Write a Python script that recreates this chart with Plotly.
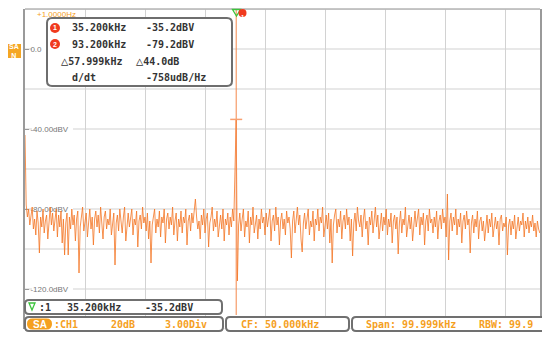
import plotly.graph_objects as go

# ---------------- data ----------------
bin_step_khz = 0.2
spectrum_dbv = [
    -43, -78, -84, -80, -88, -82, -79, -90, -85, -93, -81, -87, -102, -84, -89, -80, -92, -86, -83, -95,
    -84, -79, -88, -82, -91, -86, -80, -94, -83, -89, -81, -97, -85, -103, -87, -82, -103, -84, -90, -80,
    -88, -83, -96, -85, -81, -112, -89, -84, -79, -91, -86, -82, -94, -87, -80, -90, -84, -98, -85, -81,
    -89, -83, -92, -79, -86, -95, -84, -81, -90, -85, -88, -80, -93, -86, -82, -108, -87, -83, -91, -80,
    -85, -92, -84, -79, -96, -86, -82, -89, -84, -80, -93, -85, -88, -81, -99, -86, -83, -90, -79, -87,
    -84, -91, -82, -95, -86, -107, -88, -83, -80, -92, -85, -89, -81, -94, -84, -87, -80, -97, -85, -82,
    -90, -84, -88, -79, -93, -86, -82, -96, -85, -89, -81, -92, -84, -87, -80, -98, -86, -83, -91, -82,
    -87, -81, -75, -84, -90, -86, -95, -83, -88, -80, -92, -85, -82, -99, -87, -84, -79, -91, -85, -89,
    -81, -94, -86, -83, -90, -80, -96, -85, -88, -82, -93, -84, -89, -80, -86, -64.5, -35.2, -116, -88, -82,
    -91, -85, -80, -94, -86, -89, -81, -97, -84, -88, -79, -92, -86, -83, -95, -85, -90, -80, -87, -84,
    -93, -82, -89, -85, -80, -96, -86, -83, -91, -79, -88, -84, -98, -86, -82, -90, -85, -93, -81, -87,
    -84, -90, -104.5, -86, -81, -92, -85, -79, -88, -83, -95, -101.5, -87, -82, -90, -84, -80, -93, -86, -89,
    -81, -96, -85, -88, -80, -91, -84, -87, -79, -94, -86, -83, -90, -82, -97, -85, -107, -88, -83, -80,
    -92, -85, -89, -81, -95, -86, -83, -90, -80, -88, -84, -96, -85, -103.5, -87, -82, -91, -79, -86, -89,
    -83, -94, -85, -80, -90, -86, -98, -84, -88, -81, -92, -85, -79, -89, -83, -95, -86, -82, -91, -84,
    -88, -80, -93, -85, -89, -82, -97, -86, -83, -90, -84, -102.5, -87, -81, -92, -85, -88, -79, -94, -86,
    -83, -90, -84, -96, -86, -81, -89, -85, -80, -93, -84, -88, -82, -98, -86, -83, -91, -80, -87, -85,
    -92, -84, -89, -81, -95, -86, -83, -90, -80, -87, -84, -94, -72.5, -105.5, -86, -82, -91, -84, -88, -80,
    -93, -85, -89, -82, -97, -86, -83, -90, -81, -88, -85, -102, -87, -83, -92, -85, -89, -81, -95, -86,
    -84, -91, -86, -96, -88, -83, -92, -85, -89, -82, -94, -87, -84, -90, -86, -98, -85, -83, -91, -87,
    -89, -84, -103, -88, -85, -93, -86, -90, -83, -95, -87, -84, -91, -86, -88, -82, -94, -86, -90, -84,
    -92, -86, -89, -83, -91, -87, -94, -86, -90, -92,
]
freq_khz = [i * bin_step_khz for i in range(len(spectrum_dbv))]

marker1_khz, marker1_dbv = 35.2, -35.2
marker2_khz, marker2_dbv = 93.2, -79.2
delta_khz, delta_db = 57.999, 44.0
slope_text = "-758udB/Hz"

y_tick_vals = [0, -40, -80, -120]
y_tick_text = ["0.0", "-40.00dBV", "-80.00dBV", "-120.0dBV"]

center_freq_text = "50.000kHz"
span_text = "99.999kHz"
rbw_text = "99.9"
channel_text = "CH1"
scale_text = "20dB"
div_text = "3.00Div"
offset_text = "+1.0000Hz"

# ---------------- layout helpers (reference pixel -> paper) ----------------
OFF = 8                      # page body margin
W, H = 550 - OFF, 339 - OFF
PL, PR, PT, PB = 25, 540, 9, 329   # plot area in reference pixels


def px(x):
    return (x - PL) / (PR - PL)


def py(y):
    return (PB - y) / (PB - PT)


def rrect(x0, y0, x1, y1, r):
    pts = [
        ("M", (x0 + r, y0)), ("L", (x1 - r, y0)), ("Q", (x1, y0), (x1, y0 + r)),
        ("L", (x1, y1 - r)), ("Q", (x1, y1), (x1 - r, y1)),
        ("L", (x0 + r, y1)), ("Q", (x0, y1), (x0, y1 - r)),
        ("L", (x0, y0 + r)), ("Q", (x0, y0), (x0 + r, y0)),
    ]
    s = ""
    for p in pts:
        coords = " ".join(f"{px(a):.5f},{py(b):.5f}" for a, b in p[1:])
        s += f"{p[0]} {coords} "
    return s + "Z"


def poly(points):
    s = "M " + " L ".join(f"{px(a):.5f},{py(b):.5f}" for a, b in points)
    return s + " Z"


AMBER = "#F5A01E"
DARK = "#333333"
GREEN = "#3CC43C"
RED = "#F03A1E"
MONO = "DejaVu Sans Mono"

fig = go.Figure()
fig.add_trace(go.Scatter(
    x=freq_khz, y=spectrum_dbv, mode="lines",
    line=dict(color="rgba(244,118,36,0.8)", width=1),
    hoverinfo="skip", showlegend=False,
))

fig.update_layout(
    width=W, height=H,
    margin=dict(l=PL - OFF, r=(W + OFF) - PR, t=PT - OFF, b=(H + OFF) - PB, autoexpand=False),
    paper_bgcolor="white", plot_bgcolor="white",
    showlegend=False,
    xaxis=dict(range=[0, 100 * (PR - PL) / 600], dtick=10, tick0=0,
               showgrid=True, gridcolor="#D2D2D2", gridwidth=1.2,
               zeroline=False, showticklabels=False, showline=False, ticks=""),
    yaxis=dict(range=[-140, 20], showgrid=False,
               zeroline=False, showline=True, linecolor="#9A9A9A", linewidth=2,
               tickmode="array", tickvals=y_tick_vals, ticktext=y_tick_text,
               ticklabelposition="inside", ticks="inside", ticklen=4,
               tickcolor="#999999", layer="below traces",
               tickfont=dict(family="Arial", size=8, color="#777777")),
)
# gridlines every 20 dB (labels only every 40 dB)
for v in range(-140, 21, 20):
    fig.add_shape(type="line", xref="paper", yref="y", layer="below",
                  x0=0, x1=1, y0=v, y1=v, line=dict(color="#D2D2D2", width=1.2))

# white backgrounds for y tick labels (between grid and traces)
for v in y_tick_vals:
    fig.add_shape(type="rect", xref="paper", yref="y", layer="between",
                  x0=px(32), x1=px(73), y0=v - 2.2, y1=v + 2.2,
                  fillcolor="white", line=dict(width=0))

# marker vertical line and cross
fig.add_shape(type="line", xref="x", yref="paper", x0=marker1_khz, x1=marker1_khz,
              y0=py(315), y1=1, line=dict(color="#F4874A", width=1))
fig.add_shape(type="line", xref="x", yref="y", x0=marker1_khz - 1.0, x1=marker1_khz + 1.0,
              y0=marker1_dbv, y1=marker1_dbv, line=dict(color="#F8A070", width=1.5))

# top border
fig.add_shape(type="line", xref="paper", yref="paper", x0=0, x1=1, y0=1, y1=1,
              line=dict(color="#B5B5B5", width=1.5))
# right thick border
fig.add_shape(type="line", xref="paper", yref="paper", x0=px(541.5), x1=px(541.5),
              y0=py(9), y1=py(332), line=dict(color="#9A9A9A", width=3))

# offset label
fig.add_annotation(x=px(35), y=py(14), xref="paper", yref="paper", text=offset_text,
                   showarrow=False, xanchor="left", yanchor="middle",
                   font=dict(family="Arial", size=8, color=AMBER))

# top marker flag
fig.add_shape(type="path", xref="paper", yref="paper",
              path=poly([(232.5, 9.5), (240.5, 9.5), (236.5, 16)]),
              fillcolor="rgba(0,0,0,0)", line=dict(color=GREEN, width=1.3))
fig.add_shape(type="circle", xref="paper", yref="paper",
              x0=px(238.5), x1=px(246.5), y0=py(17), y1=py(9),
              fillcolor=RED, line=dict(width=0))
fig.add_annotation(x=px(242.5), y=py(13), xref="paper", yref="paper", text="<b>1</b>",
                   showarrow=False, borderpad=0, font=dict(family="Arial", size=6, color="white"))

# SA N badge
fig.add_shape(type="rect", xref="paper", yref="paper", x0=px(7), x1=px(21),
              y0=py(58), y1=py(44), fillcolor="#F5A623", line=dict(width=0))
fig.add_annotation(x=px(14), y=py(51), xref="paper", yref="paper", text="<b>SA<br>N</b>",
                   showarrow=False, borderpad=0, xanchor="center", yanchor="middle",
                   font=dict(family="Arial", size=7, color="white"))

# info box
fig.add_shape(type="path", xref="paper", yref="paper", path=rrect(47, 18, 232, 86, 5),
              fillcolor="white", line=dict(color="#6E6E6E", width=2))


def txt(x, y, s, color=DARK, size=10, anchor="left", family=MONO):
    fig.add_annotation(x=px(x), y=py(y), xref="paper", yref="paper", text=s,
                       showarrow=False, xanchor=anchor, yanchor="middle",
                       borderpad=0, font=dict(family=family, size=size, color=color))


def red_dot(x, y, label):
    fig.add_shape(type="circle", xref="paper", yref="paper",
                  x0=px(x - 5), x1=px(x + 5), y0=py(y + 5), y1=py(y - 5),
                  fillcolor=RED, line=dict(width=0))
    txt(x, y, f"<b>{label}</b>", color="white", size=7, anchor="center", family="Arial")


TRI = '<span style="font-size:12px">△</span>'
red_dot(55, 28, 1)
txt(71, 28, f"<b>{marker1_khz:.3f}kHz</b>")
txt(145, 28, f"<b>{marker1_dbv:.1f}dBV</b>")
red_dot(55, 44, 2)
txt(71, 44, f"<b>{marker2_khz:.3f}kHz</b>")
txt(145, 44, f"<b>{marker2_dbv:.1f}dBV</b>")
txt(60, 61, f"<b>{TRI}{delta_khz:.3f}kHz</b>")
txt(135, 61, f"<b>{TRI}{delta_db:.1f}dB</b>")
txt(71, 77, "<b>d/dt</b>")
txt(145, 77, f"<b>{slope_text}</b>")

# bottom boxes
fig.add_shape(type="path", xref="paper", yref="paper", path=rrect(25, 300, 222, 314, 4),
              fillcolor="white", line=dict(color="#707070", width=2))
fig.add_shape(type="path", xref="paper", yref="paper",
              path=poly([(29, 303), (35, 303), (32, 310)]),
              fillcolor="rgba(0,0,0,0)", line=dict(color=GREEN, width=1.3))
txt(38, 307, "<b>:1</b>")
txt(66, 307, f"<b>{marker1_khz:.3f}kHz</b>")
txt(144, 307, f"<b>{marker1_dbv:.1f}dBV</b>")

for (a, b) in [(25, 223), (226, 349), (352, 545)]:
    fig.add_shape(type="path", xref="paper", yref="paper", path=rrect(a, 317, b, 331, 4),
                  fillcolor="white", line=dict(color="#707070", width=2))

fig.add_shape(type="path", xref="paper", yref="paper", path=rrect(27, 318.5, 52, 329.5, 5.5),
              fillcolor=AMBER, line=dict(width=0))
txt(39.5, 324, "<b>SA</b>", color="white", size=10, anchor="center", family="Arial")
txt(53, 324, f"<b>:{channel_text}</b>", color=AMBER)
txt(110, 324, f"<b>{scale_text}</b>", color=AMBER)
txt(164, 324, f"<b>{div_text}</b>", color=AMBER)
txt(240, 324, f"<b>CF: {center_freq_text}</b>", color=AMBER)
txt(365, 324, f"<b>Span: {span_text}</b>", color=AMBER)
txt(478, 324, f"<b>RBW: {rbw_text}</b>", color=AMBER)

fig.write_html("out.html")
